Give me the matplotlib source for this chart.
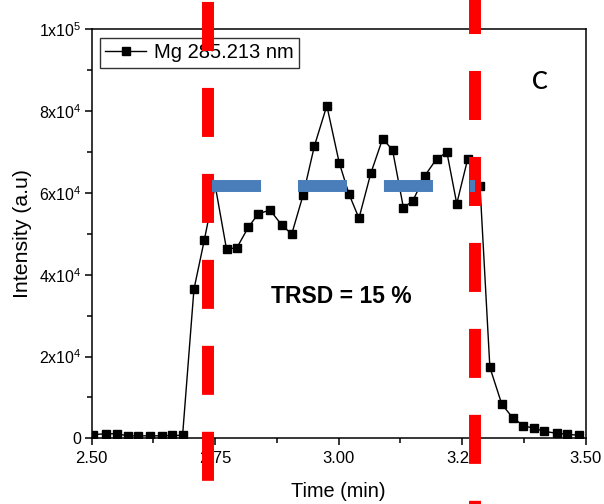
import matplotlib
matplotlib.use("Agg")
import matplotlib.pyplot as plt
import matplotlib.transforms as mtransforms
from matplotlib.ticker import AutoMinorLocator

# Dati (tempo in min, intensita' in a.u.)
time_min = [2.503, 2.528, 2.551, 2.573, 2.594, 2.618, 2.642, 2.663, 2.684,
            2.707, 2.728, 2.750, 2.773, 2.794, 2.817, 2.837, 2.861, 2.885,
            2.905, 2.928, 2.951, 2.976, 3.001, 3.021, 3.041, 3.065, 3.089,
            3.109, 3.131, 3.150, 3.174, 3.198, 3.219, 3.239, 3.261, 3.286,
            3.306, 3.330, 3.352, 3.374, 3.395, 3.416, 3.441, 3.463, 3.486]
intensity = [900, 1100, 1100, 600, 600, 600, 600, 700, 700,
             36450, 48500, 61800, 46230, 46630, 51600, 54870, 55850, 52100,
             49980, 59520, 71580, 81360, 67420, 59690, 53820, 64820, 73290,
             70520, 56410, 58050, 64160, 68320, 69960, 57390, 68250, 61790,
             17370, 8390, 5040, 3080, 2440, 1710, 1220, 980, 730]

# Limiti della finestra di integrazione e livello medio
window_limits = [2.735, 3.275]
mean_level = 61700
mean_span = [2.744, 3.276]

xticks = [2.50, 2.75, 3.00, 3.25, 3.50]
xtick_labels = ['2.50', '2.75', '3.00', '3.25', '3.50']
yticks = [0, 20000, 40000, 60000, 80000, 100000]
ytick_labels = ['0', r'$\mathregular{2x10^{4}}$', r'$\mathregular{4x10^{4}}$',
                r'$\mathregular{6x10^{4}}$', r'$\mathregular{8x10^{4}}$',
                r'$\mathregular{1x10^{5}}$']

plt.rcParams['font.family'] = ['Liberation Sans', 'DejaVu Sans']
plt.rcParams['mathtext.default'] = 'regular'
plt.rcParams['lines.scale_dashes'] = False

fig = plt.figure(figsize=(6.04, 5.04), dpi=100)
ax = fig.add_axes([0.1518, 0.1304, 0.8179, 0.8111])

ax.plot(time_min, intensity, color='black', linewidth=1.0, marker='s',
        markersize=5.8, label='Mg 285.213 nm', zorder=2)

ax.set_xlim(2.5, 3.5)
ax.set_ylim(0, 100000)
ax.set_xticks(xticks)
ax.set_xticklabels(xtick_labels, fontsize=12)
ax.set_yticks(yticks)
ax.set_yticklabels(ytick_labels, fontsize=11.5)
ax.xaxis.set_minor_locator(AutoMinorLocator(2))
ax.yaxis.set_minor_locator(AutoMinorLocator(2))
ax.tick_params(which='major', direction='out', length=5, width=1.1, pad=4)
ax.tick_params(which='minor', direction='out', length=3.5, width=1.1)
ax.tick_params(axis='y', pad=2.5)
for sp in ax.spines.values():
    sp.set_linewidth(1.1)

ax.set_xlabel('Time (min)', fontsize=14.3)
ax.set_ylabel('Intensity (a.u)', fontsize=15.3)
ax.xaxis.set_label_coords(0.5, -0.108)
ax.yaxis.set_label_coords(-0.121, 0.5)

leg = ax.legend(loc='upper left', fontsize=14.5, frameon=True, fancybox=False,
                edgecolor='black', handlelength=2.0, handletextpad=0.4,
                borderpad=0.28, borderaxespad=0.4)
leg.get_frame().set_linewidth(1.0)

ax.text(0.505, 0.346, 'TRSD = 15 %', transform=ax.transAxes, fontsize=16.5,
        fontweight='bold', ha='center', va='center')
ax.text(0.907, 0.872, 'C', transform=ax.transAxes, fontsize=17,
        family=['Lato', 'DejaVu Sans'], fontweight='semibold',
        ha='center', va='center')

# Linee rosse tratteggiate che attraversano tutta la figura
trans = mtransforms.blended_transform_factory(ax.transData, fig.transFigure)
offsets = [60.5, 10.8]
for xv, off in zip(window_limits, offsets):
    ax.plot([xv, xv], [1.0, 0.0], transform=trans, clip_on=False,
            color='#ff0000', linewidth=8.6, linestyle=(off, (35.3, 26.6)),
            dash_capstyle='butt', zorder=6)

# Livello medio (blu tratteggiato)
ax.plot(mean_span, [mean_level, mean_level], color='#4a7ebb', linewidth=8.6,
        linestyle=(0, (35.3, 26.6)), dash_capstyle='butt', zorder=7,
        clip_on=False)

plt.savefig('out.png', dpi=100)
